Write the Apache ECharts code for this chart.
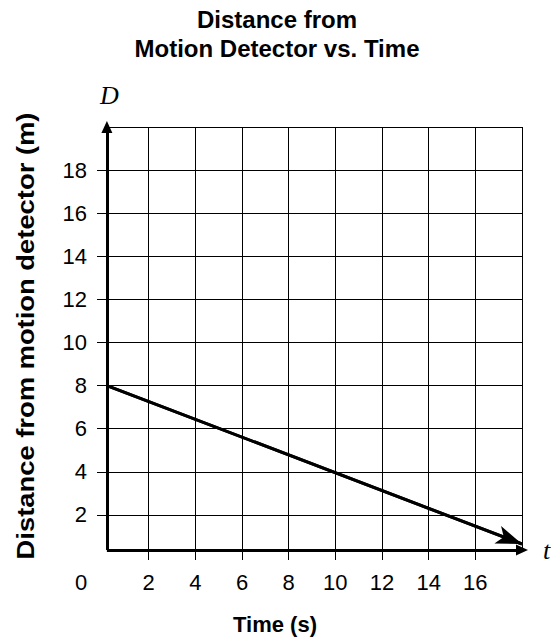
<!DOCTYPE html>
<html><head><meta charset="utf-8">
<script src="https://cdn.jsdelivr.net/npm/echarts@6/dist/echarts.min.js"></script>
<style>html,body{margin:0;padding:0;background:#fff}#c{width:556px;height:644px}</style>
</head><body><div id="c"></div>
<script>
// ---- data ----
const xTickLabels = [0, 2, 4, 6, 8, 10, 12, 14, 16];
const yTickLabels = [2, 4, 6, 8, 10, 12, 14, 16, 18];
const xGridTicks = [2, 4, 6, 8, 10, 12, 14, 16];
const yGridTicks = [2, 4, 6, 8, 10, 12, 14, 16, 18];
const timeValues = [0.21, 18];
const distanceValues = [8, 0.65];

// ---- layout constants ----
const X_MAX = 18, Y_MAX = 20;
const AXIS_T = 0.21, AXIS_D = 0.37;
const FONT = '"Liberation Sans", Arial, Helvetica, sans-serif';
const SERIF = '"Liberation Serif", "Times New Roman", serif';

const lineData = timeValues.map((t, i) => [t, distanceValues[i]]);

const chart = echarts.init(document.getElementById('c'), null, {renderer: 'svg', width: 556, height: 644});
const option = {
  animation: false,
  backgroundColor: '#fff',
  title: {
    text: 'Distance from\nMotion Detector vs. Time',
    left: 272, top: 0, textAlign: 'center',
    textStyle: {fontFamily: FONT, fontWeight: 'bold', fontSize: 24, lineHeight: 29, color: '#000'}
  },
  grid: {left: 102, right: 34, top: 127, bottom: 86, containLabel: false, outerBoundsMode: 'none'},
  xAxis: {
    type: 'value', min: 0, max: X_MAX, interval: 2,
    axisLine: {show: false},
    axisTick: {show: true, customValues: xGridTicks, length: 2, lineStyle: {color: '#000', width: 1}},
    splitLine: {show: true, lineStyle: {color: '#000', width: 1}},
    axisLabel: {
      customValues: xTickLabels, margin: 13, fontSize: 22, color: '#000', fontFamily: FONT,
      formatter: v => v === 0 ? '{z|0}' : String(v),
      rich: {z: {fontSize: 22, fontFamily: FONT, color: '#000', padding: [0, 42, 0, 0]}}
    },
    name: 'Time (s)', nameLocation: 'middle', nameGap: 55,
    nameTextStyle: {fontFamily: FONT, fontWeight: 'bold', fontSize: 22, color: '#000', padding: [0, 74, 0, 0]}
  },
  yAxis: {
    type: 'value', min: 0, max: Y_MAX, interval: 2,
    axisLine: {show: false},
    axisTick: {show: true, customValues: yGridTicks, length: 5, lineStyle: {color: '#000', width: 1}},
    splitLine: {show: true, lineStyle: {color: '#000', width: 1}},
    axisLabel: {customValues: yTickLabels, margin: 15, fontSize: 22, color: '#000', fontFamily: FONT}
  },
  graphic: [
    {type: 'text', left: 100, top: 82, style: {text: 'D', fontFamily: SERIF, fontStyle: 'italic', fontSize: 26, fill: '#000'}},
    {type: 'text', left: 543, top: 537, style: {text: 't', fontFamily: SERIF, fontStyle: 'italic', fontSize: 26, fill: '#000'}},
    {type: 'text', x: 26, y: 336, rotation: Math.PI / 2, scaleX: 1.19,
     style: {text: 'Distance from motion detector (m)', fontFamily: FONT, fontWeight: 'bold', fontSize: 23, fill: '#000',
             align: 'center', verticalAlign: 'middle', textAlign: 'center', textVerticalAlign: 'middle'}}
  ],
  series: [
    {
      type: 'line', data: lineData, symbol: 'none', silent: true,
      lineStyle: {color: '#000', width: 3},
      markLine: {
        silent: true, animation: false,
        symbol: ['none', 'arrow'], symbolSize: [14, 26], symbolOffset: [[0, 0], [0, 0]],
        label: {show: false},
        itemStyle: {color: '#000'},
        lineStyle: {color: '#000', width: 3, type: 'solid'},
        emphasis: {disabled: true},
        data: [[{coord: lineData[0]}, {coord: lineData[lineData.length - 1]}]]
      }
    },
    {
      type: 'line', data: [], silent: true,
      markLine: {
        silent: true, animation: false,
        symbol: ['none', 'triangle'], symbolSize: [11, 12], symbolOffset: [[0, 0], [0, 0]],
        label: {show: false},
        lineStyle: {color: '#000', width: 3, type: 'solid'},
        emphasis: {disabled: true},
        data: [
          [{coord: [AXIS_T, AXIS_D]}, {coord: [AXIS_T, Y_MAX]}],
          [{coord: [AXIS_T, AXIS_D]}, {coord: [X_MAX, AXIS_D]}]
        ]
      }
    },
    {
      type: 'line', data: [], silent: true,
      markLine: {
        silent: true, animation: false,
        symbol: ['none', 'none'],
        label: {show: false},
        lineStyle: {color: '#000', width: 1, type: 'solid'},
        emphasis: {disabled: true},
        data: [
          [{coord: [AXIS_T, Y_MAX]}, {coord: [X_MAX, Y_MAX]}],
          [{coord: [X_MAX, AXIS_D]}, {coord: [X_MAX, Y_MAX]}]
        ]
      }
    }
  ]
};
chart.setOption(option);
</script>
</body></html>
